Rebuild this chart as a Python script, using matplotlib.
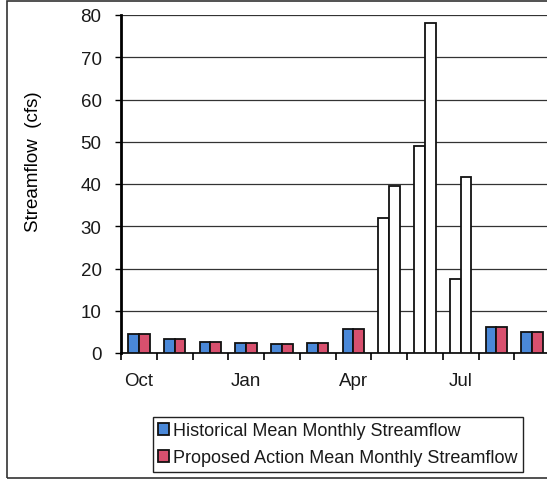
import matplotlib.pyplot as plt
import numpy as np
from matplotlib.patches import Rectangle

# Mean monthly streamflow, water year Oct-Sep (cfs)
months = ['Oct', 'Nov', 'Dec', 'Jan', 'Feb', 'Mar',
          'Apr', 'May', 'Jun', 'Jul', 'Aug', 'Sep']
historical = [4.5, 3.3, 2.5, 2.3, 2.1, 2.3, 5.6, 32.0, 49.0, 17.4, 6.2, 5.0]
proposed = [4.5, 3.3, 2.5, 2.3, 2.1, 2.3, 5.6, 39.6, 78.1, 41.6, 6.2, 5.0]
labelled_months = ['Oct', 'Jan', 'Apr', 'Jul']
# runoff months are drawn as open bars
open_months = ['May', 'Jun', 'Jul']

plt.rcParams['font.family'] = ['Liberation Sans', 'DejaVu Sans']
plt.rcParams['font.size'] = 13.5
plt.rcParams['text.color'] = '#1a1a1a'

W, H = 547, 481
fig = plt.figure(figsize=(W / 100, H / 100), dpi=100)
ax = fig.add_axes([121 / W, 127 / H, 429 / W, 338 / H])

x = np.arange(len(months))
w = 0.3
hist_colors = ['white' if m in open_months else '#4a88d8' for m in months]
prop_colors = ['white' if m in open_months else '#d8506e' for m in months]
ax.bar(x - w / 2, historical, w, color=hist_colors, edgecolor='#111111',
       linewidth=1.3, label='Historical Mean Monthly Streamflow', zorder=3)
ax.bar(x + w / 2, proposed, w, color=prop_colors, edgecolor='#111111',
       linewidth=1.3, label='Proposed Action Mean Monthly Streamflow', zorder=3)

ax.set_xlim(-0.5, len(months) - 0.5)
ax.set_ylim(0, 80)
ax.set_yticks(range(0, 81, 10))
ax.yaxis.grid(True, color='#333333', linewidth=0.9, zorder=0)

# boundary ticks without labels, month names on minor ticks
ax.set_xticks(np.arange(len(months) + 1) - 0.5)
ax.set_xticklabels([])
ax.set_xticks([months.index(m) for m in labelled_months], minor=True)
ax.set_xticklabels(labelled_months, minor=True)
ax.tick_params(axis='x', which='major', direction='out', length=5, width=1.2)
ax.tick_params(axis='x', which='minor', length=0, pad=14, labelcolor='#1a1a1a')
ax.tick_params(axis='y', direction='out', length=4, width=1, pad=10, labelcolor='#1a1a1a')

for s in ['top', 'right']:
    ax.spines[s].set_visible(False)
ax.spines['left'].set_linewidth(2)
ax.spines['bottom'].set_linewidth(1.2)

ax.set_ylabel('Streamflow  (cfs)')
ax.yaxis.set_label_coords(-0.185, 0.57)

leg = fig.legend(loc='upper left', bbox_to_anchor=(153 / W, 1 - 418 / H),
                 borderaxespad=0, fancybox=False, edgecolor='#222222',
                 framealpha=1, fontsize=13, handlelength=0.6, handleheight=0.6,
                 handletextpad=0.2, borderpad=0.3, labelspacing=0.55)
leg.get_frame().set_linewidth(1)

# outer frame of the chart
fig.patches.append(Rectangle((7 / W, 2 / H), 1.0, 477 / H, transform=fig.transFigure,
                             fill=False, edgecolor='#333333', linewidth=1.2))

fig.savefig('out.png', dpi=100)
